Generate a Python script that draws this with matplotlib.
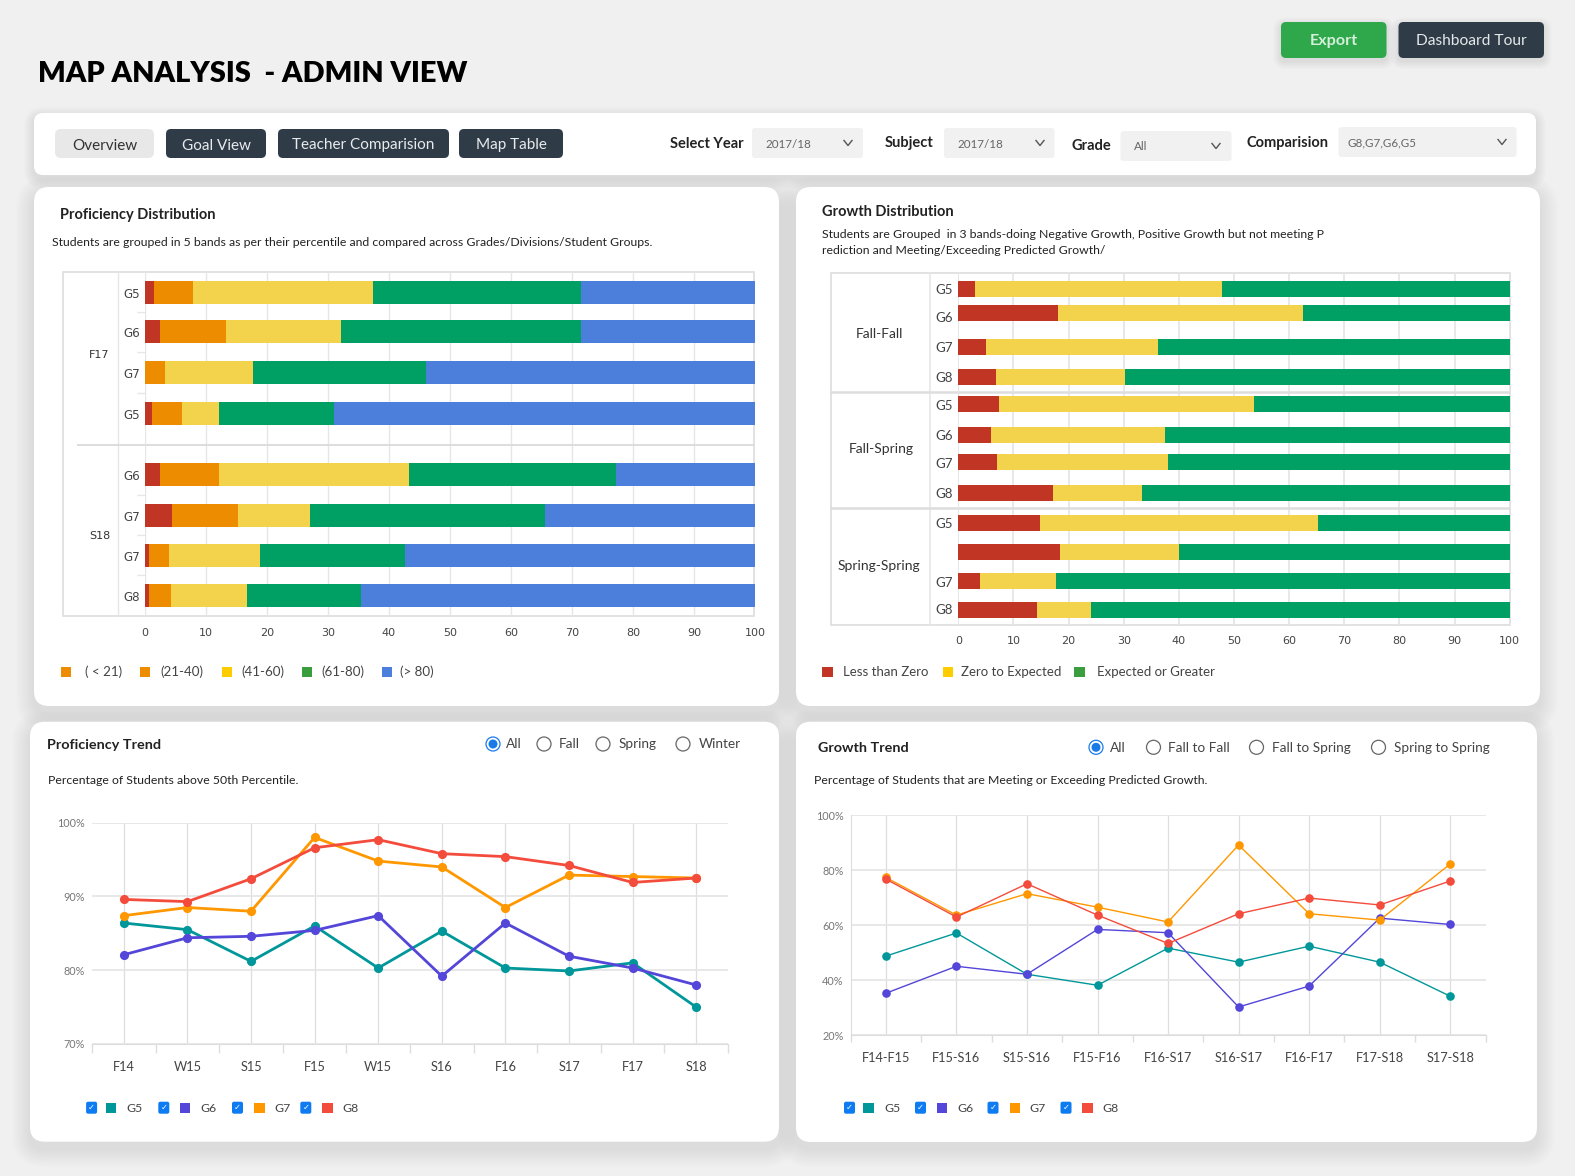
import numpy as np
import matplotlib
matplotlib.use('Agg')
import matplotlib.pyplot as plt
from matplotlib.patches import FancyBboxPatch, Rectangle, Circle

plt.rcParams['font.family'] = ['Lato', 'DejaVu Sans']

W, H = 1575, 1176

# Proficiency Distribution
prof_rows = ['G5', 'G6', 'G7', 'G5', 'G6', 'G7', 'G7', 'G8']
prof_below_21 = [1.4, 2.5, 0, 1.2, 2.5, 4.5, 0.7, 0.7]
prof_21_40 = [6.5, 10.7, 3.3, 4.8, 9.6, 10.8, 3.2, 3.6]
prof_41_60 = [29.5, 18.9, 14.4, 6.1, 31.2, 11.7, 15.0, 12.4]
prof_61_80 = [34.0, 39.3, 28.3, 18.9, 33.9, 38.5, 23.8, 18.7]
prof_above_80 = [28.6, 28.6, 54.0, 69.0, 22.8, 34.5, 57.3, 64.6]
prof_legend = ['( < 21)', '(21-40)', '(41-60)', '(61-80)', '(> 80)']

# Growth Distribution
growth_rows = ['G5', 'G6', 'G7', 'G8', 'G5', 'G6', 'G7', 'G8', 'G5', '', 'G7', 'G8']
growth_neg = [3.0, 18.0, 5.0, 6.8, 7.3, 6.0, 7.1, 17.1, 14.8, 18.4, 3.9, 14.2]
growth_zero = [44.8, 44.5, 31.3, 23.4, 46.3, 31.4, 31.0, 16.2, 50.4, 21.6, 13.9, 9.8]
growth_exp = [52.2, 37.5, 63.7, 69.8, 46.4, 62.6, 61.9, 66.7, 34.8, 60.0, 82.2, 76.0]
growth_legend = ['Less than Zero', 'Zero to Expected', 'Expected or Greater']

# Proficiency Trend
ptrend_terms = ['F14', 'W15', 'S15', 'F15', 'W15', 'S16', 'F16', 'S17', 'F17', 'S18']
ptrend_g5 = [86.4, 85.5, 81.2, 86.0, 80.3, 85.3, 80.3, 79.9, 81.0, 75.0]
ptrend_g6 = [82.1, 84.4, 84.6, 85.4, 87.4, 79.2, 86.4, 81.9, 80.3, 78.0]
ptrend_g7 = [87.4, 88.5, 88.0, 98.0, 94.8, 94.0, 88.5, 92.9, 92.7, 92.5]
ptrend_g8 = [89.6, 89.3, 92.4, 96.6, 97.7, 95.8, 95.4, 94.2, 91.9, 92.5]

# Growth Trend
gtrend_terms = ['F14-F15', 'F15-S16', 'S15-S16', 'F15-F16', 'F16-S17', 'S16-S17', 'F16-F17', 'F17-S18', 'S17-S18']
gtrend_g5 = [48.8, 57.2, 42.2, 38.2, 51.7, 46.6, 52.4, 46.6, 34.2]
gtrend_g6 = [35.3, 45.1, 42.2, 58.5, 57.3, 30.3, 37.9, 62.6, 60.3]
gtrend_g7 = [77.4, 63.7, 71.5, 66.6, 61.2, 89.2, 64.2, 61.9, 82.3]
gtrend_g8 = [76.8, 63.0, 75.1, 63.7, 53.4, 64.2, 69.9, 67.4, 76.1]

# colours
RED, ORANGE, YELLOW, GREEN, BLUE = '#c03524', '#ee8c00', '#f3d24c', '#00a064', '#4c7edc'
GRADE_COLS = ['#00979a', '#5346d8', '#ff9800', '#f44c3c']
DARK = '#2f3c48'
GRID = '#e6e6e6'

fig = plt.figure(figsize=(W / 100, H / 100), dpi=100, facecolor='#f0f0f0')

# page layer, in pixels
bg = fig.add_axes([0, 0, 1, 1], zorder=0)
bg.set_xlim(0, W)
bg.set_ylim(H, 0)
bg.axis('off')


def box(x0, y0, x1, y1, col, r=5, shadow=0, z=1):
    # shadow is how far the soft edge reaches, in pixels
    for f in (np.linspace(1, .1, 10) if shadow else []):
        grow = shadow * f
        bg.add_patch(FancyBboxPatch((x0 - grow, y0 - grow + shadow * .4), x1 - x0 + 2 * grow, y1 - y0 + 2 * grow,
                                    boxstyle='round,pad=0,rounding_size=%.1f' % (r + grow),
                                    fc='k', ec='none', alpha=.009, zorder=z))
    bg.add_patch(FancyBboxPatch((x0, y0), x1 - x0, y1 - y0, boxstyle='round,pad=0,rounding_size=%d' % r,
                                fc=col, ec='none', zorder=z + .1))


def label(x, y, s, size=9, col='#222222', weight='normal', ha='left', **kw):
    bg.text(x, y, s, fontsize=size, color=col, fontweight=weight, ha=ha, va='center_baseline', zorder=5, **kw)


def chevron(x, y):
    bg.plot([x - 4, x, x + 4], [y - 2.5, y + 2.5, y - 2.5], color='#555555', lw=1, zorder=5)


def radios(y, items):
    for i, (cx, tx, s) in enumerate(items):
        bg.add_patch(Circle((cx, y), 7, fc='white', ec='#1a7ae8' if i == 0 else '#666666', lw=.9, zorder=5))
        if i == 0:
            bg.add_patch(Circle((cx, y), 4.5, fc='#1a7ae8', ec='none', zorder=6))
        label(tx, y - .5, s, 9.8, '#444444')


def checks(y, items):
    for col, (cx, sx, tx, s) in zip(GRADE_COLS, items):
        box(cx - 5.5, y - 6, cx + 5.5, y + 6, '#0d7bf2', r=2, z=4)
        bg.text(cx, y, '\u2713', fontsize=6, color='white', family='DejaVu Sans', ha='center', va='center', zorder=6)
        bg.add_patch(Rectangle((sx, y - 5), 10.5, 10, fc=col, ec='none', zorder=5))
        label(tx, y, s, 8.8, '#444444')


def px_axes(x0, y0, x1, y1):
    ax = fig.add_axes([x0 / W, 1 - y1 / H, (x1 - x0) / W, (y1 - y0) / H], zorder=2)
    ax.patch.set_alpha(0)
    for sp in ax.spines.values():
        sp.set_visible(False)
    return ax


# cards and top row
box(34, 113, 1536, 175, 'white', 9, shadow=10)
box(34, 187, 779, 706, 'white', 15, shadow=18)
box(796, 187, 1540, 706, 'white', 15, shadow=18)
box(30, 721.7, 779, 1141.7, 'white', 15, shadow=18)
box(796, 721.7, 1537, 1142, 'white', 15, shadow=18)

label(38, 71.5, 'MAP ANALYSIS  - ADMIN VIEW', 20.9, '#000000', 800)

box(1281, 22, 1386.5, 58, '#2ea84a', 5, shadow=8)
label(1334, 39.5, 'Export', 11.6, '#d5efdb', 'bold', ha='center')
box(1398.5, 22, 1544, 58, DARK, 5, shadow=8)
label(1471, 39.5, 'Dashboard Tour', 11.2, '#e4e8ea', ha='center')

box(55, 129, 154, 158, '#e8e8e8', 6, shadow=8)
label(105, 144, 'Overview', 11, '#333333', ha='center')
for x0, x1, s in [(166, 266, 'Goal View'), (278, 449, 'Teacher Comparision'), (459, 563, 'Map Table')]:
    box(x0, 129, x1, 158, DARK, 5, shadow=7)
    label((x0 + x1) / 2, 144, s, 11, '#e8ebed', ha='center')

for tx, ty, s, x0, x1, y0, vx, val, cx in [
        (670, 143, 'Select Year', 752, 863, 128, 765, '2017/18', 848),
        (885, 142, 'Subject', 944, 1054.5, 128, 957, '2017/18', 1040),
        (1071.5, 144, 'Grade', 1120.5, 1231.5, 131, 1134, 'All', 1216),
        (1246.5, 141, 'Comparision', 1338.5, 1516.5, 127, 1348, 'G8,G7,G6,G5', 1502)]:
    label(tx, ty, s, 10.5, '#222222', 'bold')
    box(x0, y0, x1, y0 + 30, '#f1f1f1', 3)
    label(vx, y0 + 15, val, 8.4, '#666666')
    chevron(cx, y0 + 15)

# Proficiency Distribution
label(60.5, 213, 'Proficiency Distribution', 10.5, '#222222', 'bold')
label(52, 242, 'Students are grouped in 5 bands as per their percentile and compared across Grades/Divisions/Student Groups.',
      8.85, '#222222')

bg.add_patch(Rectangle((63, 272), 691, 344, fc='none', ec='#dddddd', lw=1.2, zorder=2))
bg.plot([118, 118], [272, 616], color=GRID, lw=1, zorder=2)
bg.plot([78, 145], [445, 445], color='#dddddd', lw=1.4, zorder=2)
label(99, 354, 'F17', 8, '#333333', ha='center', family='DejaVu Sans')
label(100, 535, 'S18', 8, '#333333', ha='center', family='DejaVu Sans')

ax = px_axes(145, 272, 755, 616)
prof_y = [292.8, 331.8, 372.8, 413.8, 474.8, 515.8, 555.8, 595.8]
left = np.zeros(len(prof_rows))
for vals, col in zip([prof_below_21, prof_21_40, prof_41_60, prof_61_80, prof_above_80],
                     [RED, ORANGE, YELLOW, GREEN, BLUE]):
    ax.barh(prof_y, vals, height=23, left=left, color=col, zorder=3)
    left += np.array(vals)
ax.set_xlim(0, 100)
ax.set_ylim(616, 272)
ax.axhline(445, color='#dddddd', lw=1.4, zorder=1)
ax.axvline(0, color=GRID, lw=1.2, zorder=1)
ax.set_xticks(range(0, 101, 10))
ax.set_yticks(prof_y, prof_rows)
ax.set_yticks([312, 352, 393, 495, 535, 575], minor=True)
ax.tick_params(axis='x', length=0, pad=9, labelsize=8, labelcolor='#444444', labelfontfamily='DejaVu Sans')
ax.tick_params(axis='y', which='major', length=0, pad=3.5, labelsize=8.6, labelcolor='#444444',
               labelfontfamily='DejaVu Sans')
ax.tick_params(axis='y', which='minor', length=5.8, width=1, color=GRID)
ax.grid(axis='x', color=GRID, lw=1, zorder=0)
ax.set_axisbelow(True)

for sx, tx, s, col in zip([61, 140, 222, 302.3, 381.7], [84.7, 160, 241.7, 321.7, 399.7], prof_legend,
                          [ORANGE, ORANGE, '#ffcc00', '#3a9d3e', BLUE]):
    bg.add_patch(Rectangle((sx, 667), 10, 10, fc=col, ec='none', zorder=5))
    label(tx, 671, s, 9.6, '#444444')

# Growth Distribution
label(822.5, 211, 'Growth Distribution', 10.5, '#222222', 'bold')
label(822.5, 234, 'Students are Grouped  in 3 bands-doing Negative Growth, Positive Growth but not meeting P', 8.85, '#222222')
label(822.5, 250, 'rediction and Meeting/Exceeding Predicted Growth/', 8.85, '#222222')

bg.add_patch(Rectangle((831.3, 273.3), 678.4, 352, fc='none', ec='#dddddd', lw=1.2, zorder=2))
bg.plot([930.3, 930.3], [273.3, 625.3], color=GRID, lw=1.2, zorder=2)
for yy in [391.7, 507.7]:
    bg.plot([831.3, 958], [yy, yy], color='#dddddd', lw=1.8, zorder=2)
label(879.7, 333, 'Fall-Fall', 10, '#333333', ha='center')
label(881.5, 447.7, 'Fall-Spring', 10, '#333333', ha='center')
label(879, 564.7, 'Spring-Spring', 10, '#333333', ha='center')

ax = px_axes(958.3, 273.3, 1509.7, 625.3)
growth_y = [289, 313, 347, 377, 404, 435, 462, 493, 523, 552, 581, 610]
growth_label_y = [289, 316.7, 347, 377, 405, 435, 463, 493, 523, 552, 582, 609]
left = np.zeros(len(growth_rows))
for vals, col in zip([growth_neg, growth_zero, growth_exp], [RED, YELLOW, GREEN]):
    ax.barh(growth_y, vals, height=16, left=left, color=col, zorder=3)
    left += np.array(vals)
ax.set_xlim(0, 100)
ax.set_ylim(625.3, 273.3)
for yy in [391.7, 507.7]:
    ax.axhline(yy, color='#dddddd', lw=1.8, zorder=1)
ax.axvline(0, color=GRID, lw=1.2, zorder=1)
ax.set_xticks(range(0, 101, 10))
ax.set_yticks(growth_label_y, growth_rows)
ax.tick_params(axis='x', length=0, pad=7.5, labelsize=8, labelcolor='#444444', labelfontfamily='DejaVu Sans')
ax.tick_params(axis='y', length=0, pad=4, labelsize=9.6, labelcolor='#444444')
ax.grid(axis='x', color=GRID, lw=1.3, zorder=0)
ax.set_axisbelow(True)

for sx, tx, s, col in zip([822, 942.7, 1074.3], [843.3, 960.7, 1097.3], growth_legend,
                          [RED, '#ffcc00', '#3a9d3e']):
    bg.add_patch(Rectangle((sx, 667), 10.5, 10, fc=col, ec='none', zorder=5))
    label(tx, 671, s, 9.5, '#444444')


def trend(box_px, terms, series, ylim, yticks, lw, ms, show_left, tick_len, xpad):
    ax = px_axes(*box_px)
    x = np.arange(len(terms))
    for vals, col in zip(series, GRADE_COLS):
        ax.plot(x, vals, color=col, lw=lw, marker='o', ms=ms, mew=0, zorder=3, clip_on=False)
    ax.set_xlim(-.5, len(terms) - .5)
    ax.set_ylim(*ylim)
    ax.set_yticks(yticks, ['%d%%' % v for v in yticks])
    ax.set_xticks(np.arange(len(terms) + 1) - .5, [''] * (len(terms) + 1))
    ax.set_xticks(x, terms, minor=True)
    ax.tick_params(axis='y', length=0, pad=5, labelsize=7.8, labelcolor='#777777')
    ax.tick_params(axis='x', which='major', length=tick_len, width=1, color='#dddddd')
    ax.tick_params(axis='x', which='minor', length=0, pad=xpad, labelsize=9.2, labelcolor='#444444')
    ax.grid(axis='y', color=GRID, lw=1.3, zorder=0)
    ax.grid(axis='x', which='minor', color='#dedede', lw=.9, zorder=0)
    ax.set_axisbelow(True)
    ax.spines['bottom'].set_visible(True)
    ax.spines['bottom'].set_color('#dddddd')
    ax.spines['left'].set_visible(show_left)
    ax.spines['left'].set_color('#dddddd')
    return ax


# Proficiency Trend
label(47, 744, 'Proficiency Trend', 10.4, '#222222', 'bold')
radios(744, [(493, 506, 'All'), (544, 559, 'Fall'), (603, 619, 'Spring'), (683, 699, 'Winter')])
label(48, 780, 'Percentage of Students above 50th Percentile.', 8.85, '#222222')
trend((92, 822.7, 728, 1044), ptrend_terms, [ptrend_g5, ptrend_g6, ptrend_g7, ptrend_g8],
      (70, 100), [70, 80, 90, 100], 2.0, 6.6, False, 6.3, 12)
checks(1107.7, [(91.6, 105.6, 126, 'G5'), (163.8, 179.8, 200, 'G6'), (237.5, 254, 274, 'G7'), (305.8, 322, 342.6, 'G8')])

# Growth Trend
label(818.5, 747.3, 'Growth Trend', 10.4, '#222222', 'bold')
radios(747.3, [(1096, 1110, 'All'), (1153.5, 1168.5, 'Fall to Fall'), (1256.5, 1272, 'Fall to Spring'),
               (1378.5, 1393.5, 'Spring to Spring')])
label(814.5, 780, 'Percentage of Students that are Meeting or Exceeding Predicted Growth.', 8.85, '#222222')
trend((850.6, 815.3, 1485.5, 1035.3), gtrend_terms, [gtrend_g5, gtrend_g6, gtrend_g7, gtrend_g8],
      (20, 100), [20, 40, 60, 80, 100], 1.0, 6.2, True, 5.3, 12)
checks(1107.7, [(849.5, 863, 884, 'G5'), (920.5, 936.5, 957, 'G6'), (993, 1009.5, 1029.5, 'G7'), (1066, 1082, 1102.5, 'G8')])

fig.savefig('out.png', dpi=100, facecolor=fig.get_facecolor())
